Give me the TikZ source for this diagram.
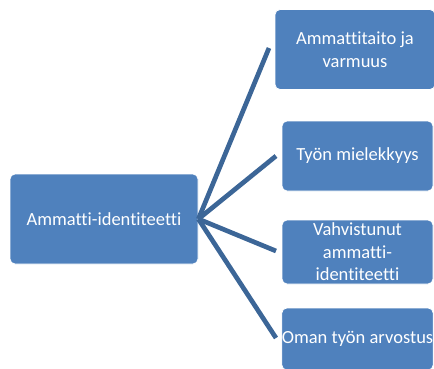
\documentclass[tikz,border=0pt]{standalone}
\usepackage{fontspec}
\setmainfont{Carlito}[Ligatures={NoCommon}]
\definecolor{boxblue}{HTML}{4F81BD}
\definecolor{lineblue}{HTML}{3C6697}
\begin{document}
\begin{tikzpicture}[x=1pt,y=-1pt,
  box/.style={draw=white, line width=0.8pt, fill=boxblue, rounded corners=5pt,
    text=white, align=center, inner sep=0pt,
    font=\fontsize{18.5}{22.5}\selectfont},
  conn/.style={draw=lineblue, line width=4.7pt}]
\useasboundingbox (0,0) rectangle (434,369);
\clip (0,0) rectangle (434,369);
\node[box, minimum width=188pt, minimum height=90pt] (root) at (104,219) {Ammatti-identiteetti};
\node[box, minimum width=160pt, minimum height=80pt] (a) at (355,49.5) {Ammattitaito ja\\varmuus};
\node[box, minimum width=151pt, minimum height=70pt] (b) at (357.5,156) {Työn mielekkyys};
\node[box, minimum width=151pt, minimum height=64pt] (c) at (357.5,252) {Vahvistunut\\ammatti-\\identiteetti};
\node[box, minimum width=151pt, minimum height=62pt] (d) at (357.5,339) {Oman työn arvostus};
\coordinate (ea) at (269,48);
\coordinate (eb) at (276,156);
\coordinate (ec) at (276,251);
\coordinate (ed) at (276,338);
\draw[conn] (root.east) -- (ea);
\draw[conn] (root.east) -- (eb);
\draw[conn] (root.east) -- (ec);
\draw[conn] (root.east) -- (ed);
\end{tikzpicture}
\end{document}
